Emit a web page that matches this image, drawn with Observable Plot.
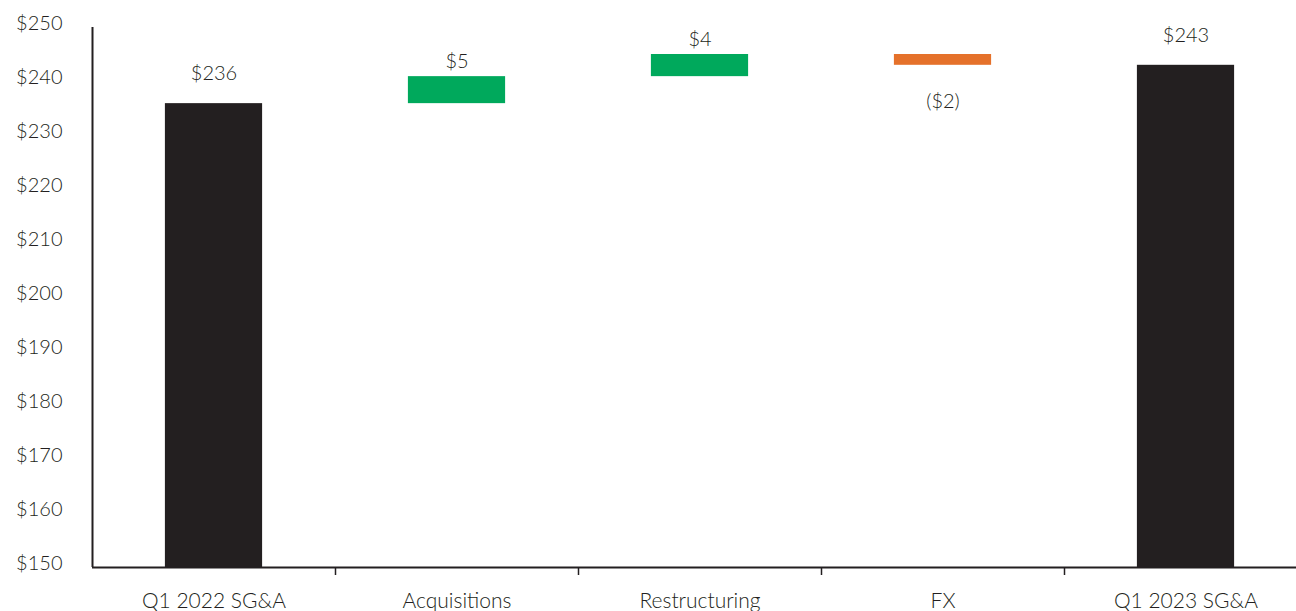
<!DOCTYPE html>
<html><head><meta charset="utf-8">
<script src="https://cdn.jsdelivr.net/npm/d3@7"></script>
<script src="https://cdn.jsdelivr.net/npm/@observablehq/plot@0.6"></script>
<style>body{margin:0;background:#fff;overflow:hidden} svg text{font-weight:300}</style>
</head><body><div id="chart"></div>
<script>
const categories = ["Q1 2022 SG&A", "Acquisitions", "Restructuring", "FX", "Q1 2023 SG&A"];
const kinds = ["total", "increase", "increase", "decrease", "total"];
const values = [235.9, 5.0, 4.1, -2.0, 243.0];
const labels = ["$236", "$5", "$4", "($2)", "$243"];
const yTicks = [150, 160, 170, 180, 190, 200, 210, 220, 230, 240, 250];
const yBase = 150;
const colors = {total: "#231f20", increase: "#00a95c", decrease: "#e5712a"};

let run = 0;
const data = categories.map((c, i) => {
  let y1, y2;
  if (kinds[i] === "total") { y1 = yBase; y2 = values[i]; run = values[i]; }
  else { y1 = run; y2 = run + values[i]; run = y2; }
  return {i, category: c, kind: kinds[i], y1, y2, label: labels[i],
          top: Math.max(y1, y2), bottom: Math.min(y1, y2)};
});

const font = "Lato, 'Open Sans', sans-serif";
const fs = 20;
const ink = "#231f20";

const chart = Plot.plot({
  width: 1296,
  height: 611,
  marginLeft: 92,
  marginRight: 0,
  marginTop: 27,
  marginBottom: 44,
  style: {fontFamily: font, fontSize: fs + "px", color: ink, background: "#fff", overflow: "visible"},
  x: {domain: [0, categories.length], range: [92, 1307]},
  y: {domain: [150, 250], range: [567, 27]},
  marks: [
    Plot.rect(data, {x1: d => d.i + 0.3, x2: d => d.i + 0.7, y1: "y1", y2: "y2", fill: d => colors[d.kind]}),
    Plot.axisY({ticks: yTicks, tickSize: 0, tickPadding: 30, tickFormat: d => "$" + d, fontSize: fs, dy: -4}),
    Plot.axisX({ticks: categories.slice(1).map((c, i) => i + 1), tickSize: 8, tickFormat: () => "", strokeWidth: 1.5, stroke: ink}),
    Plot.axisX({ticks: categories.map((c, i) => i + 0.5), tickSize: 0, tickPadding: 26, fontSize: 21,
                tickFormat: v => categories[Math.round(v - 0.5)]}),
    Plot.ruleY([yBase], {stroke: ink, strokeWidth: 2}),
    Plot.ruleX([0], {y1: 150, y2: 250, stroke: ink, strokeWidth: 2}),
    Plot.text(data.filter(d => d.kind === "total"), {x: d => d.i + 0.5, y: "top", text: "label", dy: -30, fontSize: fs, fill: ink}),
    Plot.text(data.filter(d => d.kind === "increase"), {x: d => d.i + 0.5, y: "top", text: "label", dy: -15, fontSize: fs, fill: ink}),
    Plot.text(data.filter(d => d.kind === "decrease"), {x: d => d.i + 0.5, y: "bottom", text: "label", dy: 36, fontSize: fs, fill: ink})
  ]
});
document.getElementById("chart").appendChild(chart);
</script>
</body></html>
